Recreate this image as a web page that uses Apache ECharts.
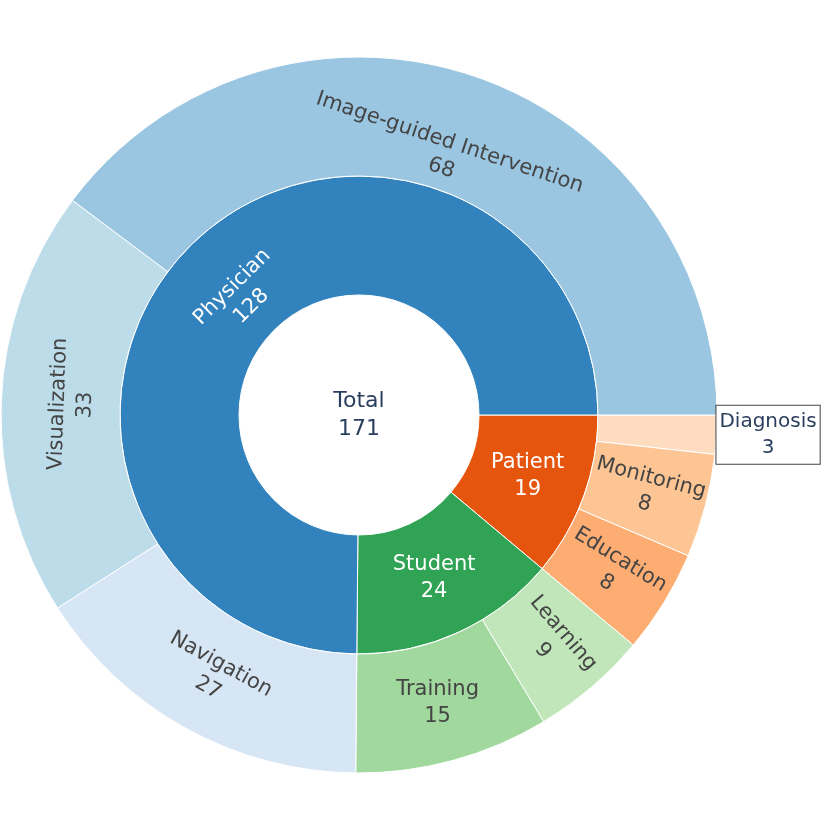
<!DOCTYPE html>
<html>
<head>
<meta charset="utf-8">
<script src="https://cdn.jsdelivr.net/npm/echarts@6/dist/echarts.min.js"></script>
<style>html,body{margin:0;padding:0;background:#fff;}#c{width:831px;height:831px;}</style>
</head>
<body>
<div id="c"></div>
<script>
const rootName = 'Total';
const groupNames = ['Physician', 'Student', 'Patient'];
const physicianNames = ['Image-guided Intervention', 'Visualization', 'Navigation'];
const physicianValues = [68, 33, 27];
const studentNames = ['Training', 'Learning'];
const studentValues = [15, 9];
const patientNames = ['Education', 'Monitoring', 'Diagnosis'];
const patientValues = [8, 8, 3];

const groupColors = ['#3182bd', '#31a354', '#e6550d'];
const physicianColors = ['#9bc6e2', '#bddcea', '#d7e6f4'];
const studentColors = ['#a0d89d', '#c0e6ba'];
const patientColors = ['#fdad72', '#fdc593', '#fedcbf'];

const FONT = 'DejaVu Sans';
const sum = a => a.reduce((s, v) => s + v, 0);

// label orientation per node (styling only); shift = inward offset in px
const labelStyles = {
  'Physician': {rotate: 'tangential', shift: 13},
  'Student': {rotate: 0},
  'Patient': {rotate: 0},
  'Image-guided Intervention': {rotate: 'tangential', shift: 25},
  'Visualization': {rotate: 'tangential', shift: 11},
  'Navigation': {rotate: 'tangential'},
  'Training': {rotate: 0},
  'Learning': {rotate: 'radial'},
  'Education': {rotate: 'radial'},
  'Monitoring': {rotate: 'radial'}
};

function makeLabel(name, color) {
  const s = labelStyles[name] || {};
  const label = {color, rotate: s.rotate};
  if (s.shift) {
    label.formatter = p => '{s| }\n{n|' + p.name + '}\n{n|' + p.value + '}';
    label.rich = {
      s: {lineHeight: s.shift * 2, fontSize: 2},
      n: {fontFamily: FONT, fontSize: 21, lineHeight: 27, color}
    };
  }
  return label;
}

function leaf(name, value, color) {
  let label = makeLabel(name, '#444');
  if (name === 'Diagnosis') {
    label = {
      rotate: 0, position: 'outside', distance: 0, color: '#2a3f5f',
      backgroundColor: '#fff', borderColor: '#444', borderWidth: 1,
      padding: [3, 3, 3, 3], align: 'left',
      formatter: p => '{c|' + p.name + '}\n{c|' + p.value + '}',
      rich: {c: {align: 'center', fontFamily: FONT, fontSize: 20, lineHeight: 26, color: '#2a3f5f'}}
    };
  }
  return {name, value, itemStyle: {color}, label};
}
function group(i, names, values, colors) {
  // counter-clockwise order in the picture -> build reversed for clockwise layout
  const kids = names.map((n, k) => leaf(n, values[k], colors[k])).reverse();
  return {
    name: groupNames[i], value: sum(values),
    itemStyle: {color: groupColors[i]},
    label: makeLabel(groupNames[i], '#fff'),
    children: kids
  };
}
const data = [{
  name: rootName,
  value: sum(physicianValues) + sum(studentValues) + sum(patientValues),
  itemStyle: {color: '#fff'},
  label: {rotate: 0, color: '#2a3f5f', fontSize: 22, lineHeight: 28},
  children: [
    group(0, physicianNames, physicianValues, physicianColors),
    group(1, studentNames, studentValues, studentColors),
    group(2, patientNames, patientValues, patientColors)
  ].reverse()
}];

const chart = echarts.init(document.getElementById('c'));
chart.setOption({
  animation: false,
  series: [{
    type: 'sunburst',
    center: [359, 415],
    startAngle: 0,
    clockwise: true,
    sort: null,
    nodeClick: false,
    emphasis: {focus: 'none'},
    data: data,
    itemStyle: {borderColor: '#fff', borderWidth: 1},
    label: {
      formatter: p => p.name + '\n' + p.value,
      fontFamily: FONT, fontSize: 21, lineHeight: 27, minAngle: 0
    },
    levels: [
      {},
      {r0: 0, r: 120},
      {r0: 120, r: 239},
      {r0: 239, r: 358}
    ]
  }]
});
</script>
</body>
</html>
